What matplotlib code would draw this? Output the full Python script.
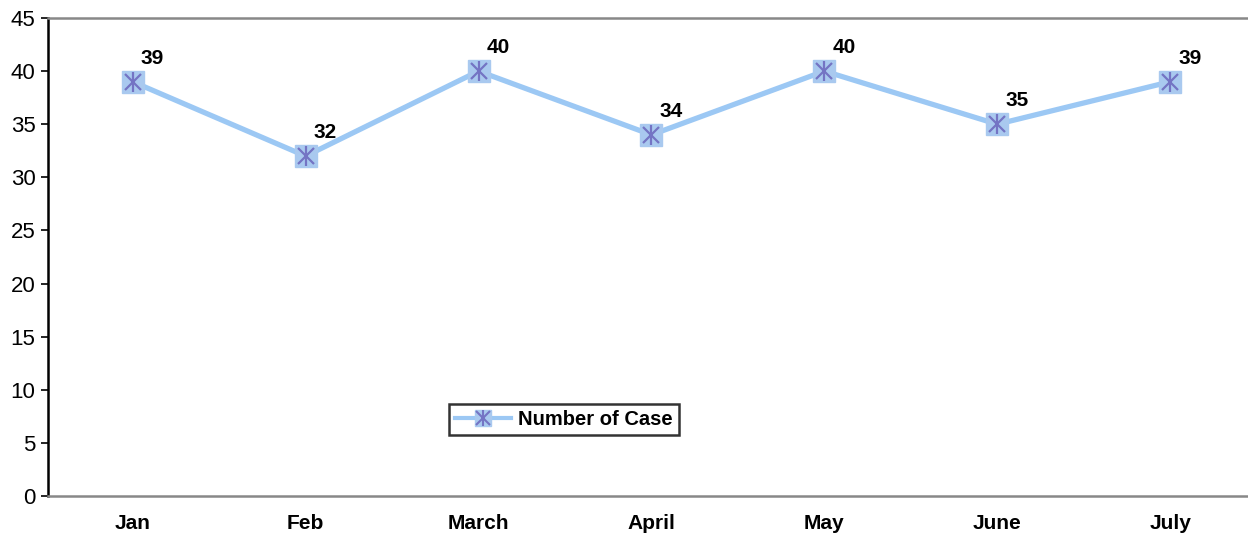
import numpy as np
import matplotlib.pyplot as plt
from matplotlib.lines import Line2D

plt.rcParams['font.family'] = ['Liberation Sans', 'DejaVu Sans']

months = ['Jan', 'Feb', 'March', 'April', 'May', 'June', 'July']
cases = [39, 32, 40, 34, 40, 35, 39]

line_col = '#9cc8f4'
box_col = '#a9c9ef'
star_col = '#7474c4'

fig = plt.figure(figsize=(12.48, 5.37), dpi=100)
ax = fig.add_axes([48 / 1248, 1 - 496 / 537, 1 - 48 / 1248, 478 / 537])

x = np.arange(len(months))

# line and markers
ax.plot(x, cases, color=line_col, lw=3.8, zorder=2)
ax.plot(x, cases, ls='none', marker='s', ms=16, mfc=box_col, mec=box_col, zorder=3)
ax.plot(x, cases, ls='none', marker='x', ms=12, mec=star_col, mew=1.6, zorder=4)
ax.plot(x, cases, ls='none', marker='|', ms=15, mec=star_col, mew=1.6, zorder=4)

# data labels
for xi, yi in zip(x, cases):
    ax.annotate(str(yi), (xi, yi), xytext=(14, 10), textcoords='offset points',
                ha='center', va='bottom', fontsize=15, fontweight='bold')

ax.set_xlim(-0.49, 6.45)
ax.set_ylim(0, 45)
ax.set_yticks(range(0, 46, 5))
ax.set_xticks(x)
ax.set_xticklabels(months, fontsize=15, fontweight='bold')
ax.tick_params(axis='x', length=0, pad=13)
ax.tick_params(axis='y', labelsize=16, length=5, width=1.2, direction='out', pad=4)

ax.spines['right'].set_visible(False)
ax.spines['left'].set_linewidth(1.8)
ax.spines['left'].set_color('black')
ax.spines['top'].set_color('#888888')
ax.spines['top'].set_linewidth(1.8)
ax.spines['bottom'].set_color('#888888')
ax.spines['bottom'].set_linewidth(1.8)

# legend
h_line = Line2D([], [], color=line_col, lw=3)
h_box = Line2D([], [], ls='none', marker='s', ms=12, mfc=box_col, mec=box_col)
h_x = Line2D([], [], ls='none', marker='x', ms=10, mec=star_col, mew=1.5)
h_v = Line2D([], [], ls='none', marker='|', ms=12, mec=star_col, mew=1.5)
leg = ax.legend([(h_line, h_box, h_x, h_v)], ['Number of Case'],
                loc='center', bbox_to_anchor=(0.43, 0.16),
                prop={'weight': 'bold', 'size': 14.5}, frameon=True, fancybox=False,
                handlelength=2.8, borderpad=0.3, handletextpad=0.35)
leg.get_frame().set_edgecolor('black')
leg.get_frame().set_linewidth(1.8)

fig.savefig('out.png', dpi=100)
